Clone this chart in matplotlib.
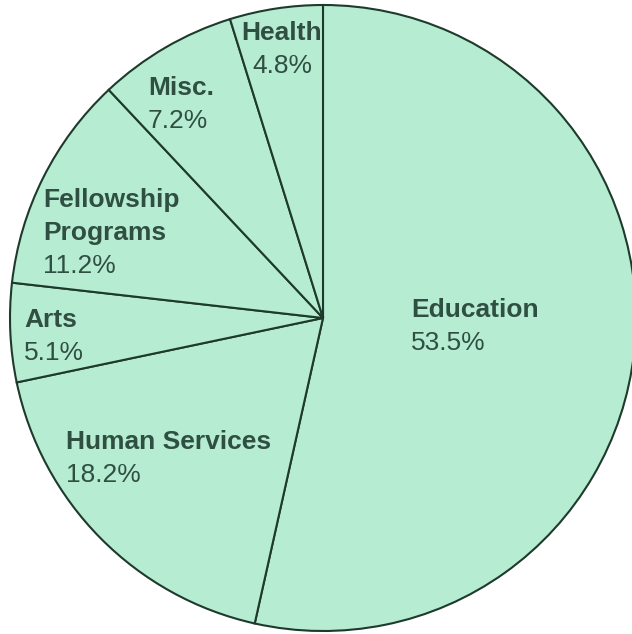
import matplotlib
matplotlib.use("Agg")
import matplotlib.pyplot as plt

categories = ["Education", "Human Services", "Arts", "Fellowship\nPrograms", "Misc.", "Health"]
values = [53.5, 18.2, 5.1, 11.2, 7.2, 4.8]
pct_labels = ["53.5%", "18.2%", "5.1%", "11.2%", "7.2%", "4.8%"]

W, H = 632, 634
CX, CY = 323, 318  # pie centre in pixels (from top-left)
R = 313

fig = plt.figure(figsize=(W / 100, H / 100), dpi=100)
fig.patch.set_facecolor("white")
ax = fig.add_axes([0, 0, 1, 1])
ax.pie(values, startangle=90, counterclock=False, radius=R, center=(0, 0),
       colors=["#b6ecd2"] * len(values),
       wedgeprops=dict(edgecolor="#1e3a2c", linewidth=1.5))
ax.set_xlim(-CX, W - CX)
ax.set_ylim(-(H - CY), CY)
ax.set_aspect("equal")
ax.axis("off")

label_pos = {
    "Education": (411, 310, "left"),
    "Human Services": (66, 442, "left"),
    "Arts": (24, 320, "left"),
    "Fellowship\nPrograms": (43, 200, "left"),
    "Misc.": (148, 88, "left"),
    "Health": (282, 33, "center"),
}
tc = "#2f4f42"
fs = 19
for cat, pct in zip(categories, pct_labels):
    px, py, ha = label_pos[cat]
    lines = cat.split("\n")
    for i, ln in enumerate(lines):
        ax.text(px - CX, CY - (py + 33 * i), ln, ha=ha, va="center",
                fontsize=fs, fontweight="bold", color=tc, family="Liberation Sans")
    ax.text(px - CX, CY - (py + 33 * len(lines)), pct,
            ha=ha, va="center", fontsize=fs, color=tc, family="Liberation Sans")

fig.savefig("out.png", dpi=100)
